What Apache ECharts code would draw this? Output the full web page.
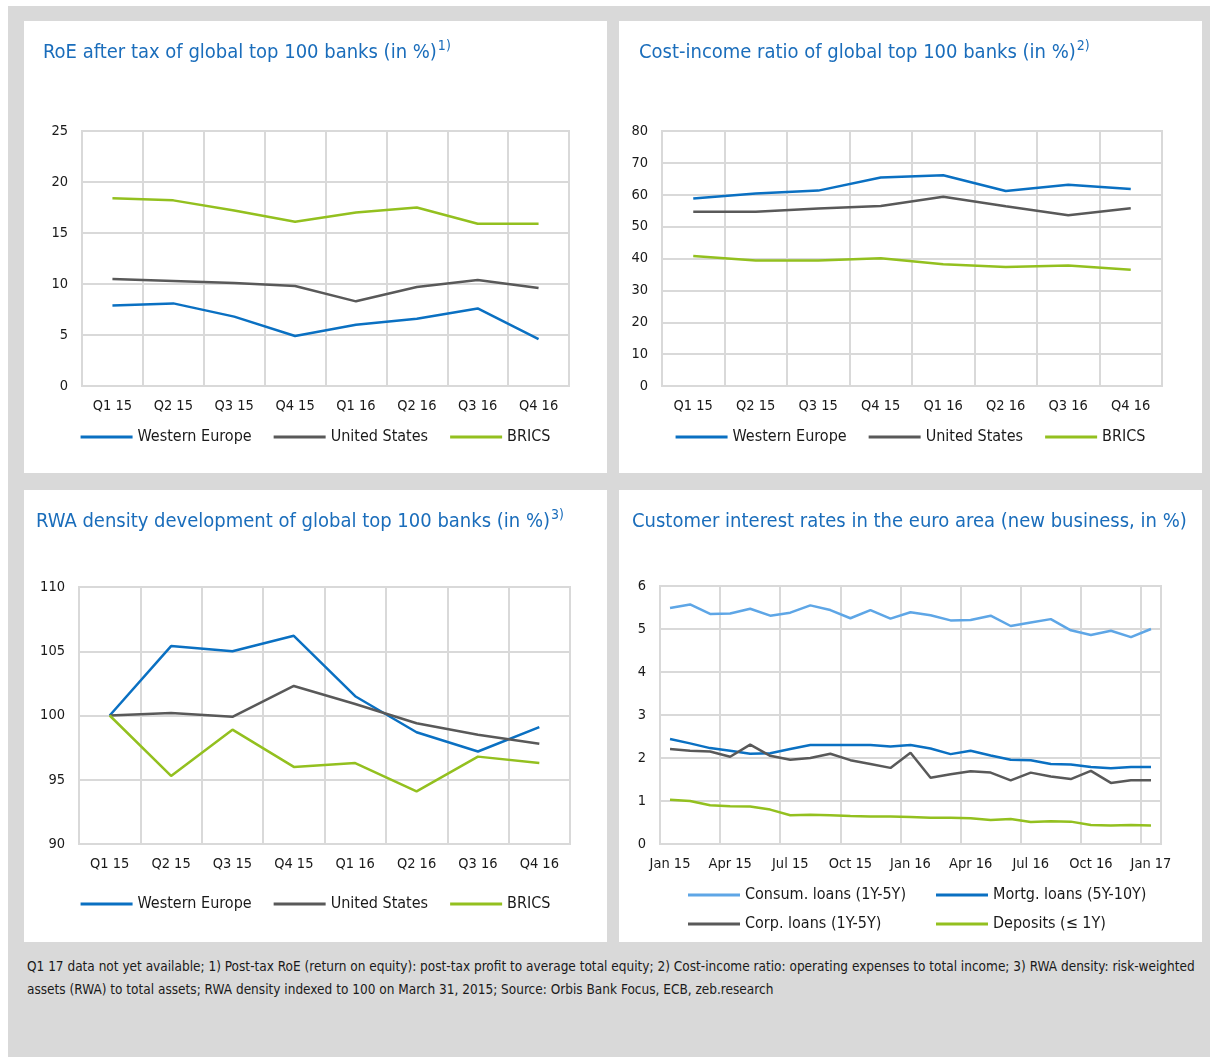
<!DOCTYPE html>
<html>
<head>
<meta charset="utf-8">
<script src="https://cdn.jsdelivr.net/npm/echarts@6/dist/echarts.min.js"></script>
<style>
  html, body { margin: 0; padding: 0; background: #fff; }
  body { width: 1210px; height: 1057px; position: relative; overflow: hidden; }
  .frame { position: absolute; left: 8px; top: 6px; right: 0; bottom: 0; background: #d9d9d9; }
  .panel { position: absolute; background: #fff; width: 583px; height: 452px; }
  .note {
    position: absolute; left: 27px; top: 955px; width: 1180px;
    font-family: "DejaVu Sans Condensed", "Liberation Sans", sans-serif;
    font-size: 13.5px; line-height: 23px; color: #1a1a1a; white-space: nowrap;
  }
</style>
</head>
<body>
<div class="frame"></div>
<div class="panel" id="roe" style="left:24px;top:21px;"></div>
<div class="panel" id="cir" style="left:619px;top:21px;"></div>
<div class="panel" id="rwa" style="left:24px;top:490px;"></div>
<div class="panel" id="rates" style="left:619px;top:490px;"></div>
<div class="note">Q1 17 data not yet available; 1) Post-tax RoE (return on equity): post-tax profit to average total equity; 2) Cost-income ratio: operating expenses to total income; 3) RWA density: risk-weighted<br>assets (RWA) to total assets; RWA density indexed to 100 on March 31, 2015; Source: Orbis Bank Focus, ECB, zeb.research</div>

<script>
// quarters used by the first three charts
const quarters = ['Q1 15', 'Q2 15', 'Q3 15', 'Q4 15', 'Q1 16', 'Q2 16', 'Q3 16', 'Q4 16'];
const regionNames = ['Western Europe', 'United States', 'BRICS'];

// RoE after tax (%)
const roeWesternEurope = [7.9, 8.1, 6.8, 4.9, 6.0, 6.6, 7.6, 4.6];
const roeUnitedStates = [10.5, 10.3, 10.1, 9.8, 8.3, 9.7, 10.4, 9.6];
const roeBrics = [18.4, 18.2, 17.2, 16.1, 17.0, 17.5, 15.9, 15.9];

// cost-income ratio (%)
const cirWesternEurope = [58.8, 60.4, 61.3, 65.4, 66.1, 61.2, 63.1, 61.8];
const cirUnitedStates = [54.7, 54.7, 55.7, 56.5, 59.4, 56.4, 53.6, 55.8];
const cirBrics = [40.8, 39.4, 39.4, 40.1, 38.2, 37.3, 37.8, 36.5];

// RWA density, indexed
const rwaWesternEurope = [100, 105.4, 105.0, 106.2, 101.5, 98.7, 97.2, 99.1];
const rwaUnitedStates = [100, 100.2, 99.9, 102.3, 100.9, 99.4, 98.5, 97.8];
const rwaBrics = [100, 95.3, 98.9, 96.0, 96.3, 94.1, 96.8, 96.3];

// monthly customer interest rates, Jan 15 .. Jan 17
const months = ['Jan 15', 'Feb 15', 'Mar 15', 'Apr 15', 'May 15', 'Jun 15', 'Jul 15', 'Aug 15', 'Sep 15',
  'Oct 15', 'Nov 15', 'Dec 15', 'Jan 16', 'Feb 16', 'Mar 16', 'Apr 16', 'May 16', 'Jun 16', 'Jul 16',
  'Aug 16', 'Sep 16', 'Oct 16', 'Nov 16', 'Dec 16', 'Jan 17'];
const consumLoans = [5.49, 5.57, 5.35, 5.36, 5.47, 5.31, 5.38, 5.55, 5.44, 5.25, 5.44, 5.24, 5.39,
  5.32, 5.20, 5.21, 5.31, 5.07, 5.15, 5.23, 4.97, 4.86, 4.96, 4.81, 5.00];
const mortgLoans = [2.44, 2.34, 2.23, 2.17, 2.10, 2.11, 2.21, 2.30, 2.30, 2.30, 2.30, 2.27, 2.30,
  2.22, 2.09, 2.17, 2.06, 1.96, 1.95, 1.86, 1.85, 1.79, 1.76, 1.79, 1.79];
const corpLoans = [2.21, 2.17, 2.15, 2.03, 2.31, 2.05, 1.96, 2.00, 2.10, 1.95, 1.86, 1.77, 2.12,
  1.54, 1.62, 1.69, 1.66, 1.48, 1.66, 1.57, 1.51, 1.70, 1.42, 1.48, 1.48];
const deposits = [1.03, 1.00, 0.90, 0.88, 0.87, 0.80, 0.67, 0.68, 0.67, 0.65, 0.64, 0.64, 0.63,
  0.61, 0.61, 0.60, 0.56, 0.58, 0.51, 0.53, 0.52, 0.44, 0.43, 0.44, 0.43];
const rateNames = ['Consum. loans (1Y-5Y)', 'Mortg. loans (5Y-10Y)', 'Corp. loans (1Y-5Y)', 'Deposits (≤ 1Y)'];

const FONT = '"DejaVu Sans Condensed", "Liberation Sans", sans-serif';
const BLUE = '#0a70c2';
const GREY = '#595959';
const GREEN = '#93c01f';
const LIGHT_BLUE = '#5ea6e6';
const GRID = '#d9d9d9';
const TEXT = '#1a1a1a';

const titleOf = (text, sup, left) => ({
  text: sup ? '{t|' + text + '}{s|' + sup + '}' : '{t|' + text + '}',
  left: left,
  top: 13,
  textStyle: {
    fontWeight: 'normal',
    rich: {
      t: { fontFamily: FONT, fontSize: 20, fontWeight: 'normal', color: '#1a6dbb', lineHeight: 28 },
      s: { fontFamily: FONT, fontSize: 14, fontWeight: 'normal', color: '#1a6dbb', verticalAlign: 'top', lineHeight: 28, padding: [0, 0, 0, 1] }
    }
  }
});

const lineSeries = (name, data, color) => ({
  name: name,
  type: 'line',
  data: data,
  symbol: 'none',
  smooth: false,
  lineStyle: { color: color, width: 2.5 },
  itemStyle: { color: color },
  emphasis: { disabled: true }
});

const legendStyle = {
  icon: 'rect',
  itemWidth: 52,
  itemHeight: 3,
  textStyle: { fontFamily: FONT, fontSize: 16, color: TEXT }
};

// single-item legend, so that the 2x2 legend of the rates chart lines up in columns
const legendAt = (name, left, top) => Object.assign({ data: [name], left: left, top: top }, legendStyle);

const axisLabelStyle = { fontFamily: FONT, fontSize: 14.5, color: TEXT };

// one quarterly chart: three regions on a category axis
const drawQuarterChart = (id, title, sup, titleLeft, grid, yMin, yMax, yStep, values) => {
  const chart = echarts.init(document.getElementById(id));
  chart.setOption({
    animation: false,
    title: titleOf(title, sup, titleLeft),
    legend: Object.assign({
      data: regionNames,
      left: 'center',
      top: grid.legendTop,
      itemGap: 22
    }, legendStyle),
    grid: {
      left: grid.left, right: grid.right, top: grid.top, bottom: grid.bottom,
      show: true, borderColor: GRID, borderWidth: 2
    },
    xAxis: {
      type: 'category',
      data: quarters,
      boundaryGap: true,
      axisLine: { show: false },
      axisTick: { show: false },
      axisLabel: Object.assign({ margin: 13 }, axisLabelStyle),
      splitLine: { show: true, lineStyle: { color: GRID, width: 2 } }
    },
    yAxis: {
      type: 'value',
      min: yMin,
      max: yMax,
      interval: yStep,
      axisLine: { show: false },
      axisTick: { show: false },
      axisLabel: Object.assign({ margin: 14 }, axisLabelStyle),
      splitLine: { lineStyle: { color: GRID, width: 2 } }
    },
    series: [
      lineSeries(regionNames[0], values[0], BLUE),
      lineSeries(regionNames[1], values[1], GREY),
      lineSeries(regionNames[2], values[2], GREEN)
    ]
  });
};

drawQuarterChart('roe', 'RoE after tax of global top 100 banks (in %)', '1)', 14,
  { left: 58, right: 38, top: 110, bottom: 87, legendTop: 403 }, 0, 25, 5,
  [roeWesternEurope, roeUnitedStates, roeBrics]);

drawQuarterChart('cir', 'Cost-income ratio of global top 100 banks (in %)', '2)', 15,
  { left: 43, right: 40, top: 110, bottom: 87, legendTop: 403 }, 0, 80, 10,
  [cirWesternEurope, cirUnitedStates, cirBrics]);

drawQuarterChart('rwa', 'RWA density development of global top 100 banks (in %)', '3)', 7,
  { left: 55, right: 37, top: 97, bottom: 98, legendTop: 401 }, 90, 110, 5,
  [rwaWesternEurope, rwaUnitedStates, rwaBrics]);

// monthly rates chart
const ratesChart = echarts.init(document.getElementById('rates'));
ratesChart.setOption({
  animation: false,
  title: titleOf('Customer interest rates in the euro area (new business, in %)', '', 8),
  legend: [
    legendAt(rateNames[0], 64, 392),
    legendAt(rateNames[1], 312, 392),
    legendAt(rateNames[2], 64, 421),
    legendAt(rateNames[3], 312, 421)
  ],
  grid: { left: 41, right: 41, top: 96, bottom: 98, show: true, borderColor: GRID, borderWidth: 2 },
  xAxis: {
    type: 'category',
    data: months,
    boundaryGap: true,
    axisLine: { show: false },
    axisTick: { show: false, interval: 2 },
    axisLabel: Object.assign({ interval: 2, margin: 13 }, axisLabelStyle),
    splitLine: { show: true, interval: 2, lineStyle: { color: GRID, width: 2 } }
  },
  yAxis: {
    type: 'value',
    min: 0,
    max: 6,
    interval: 1,
    axisLine: { show: false },
    axisTick: { show: false },
    axisLabel: Object.assign({ margin: 14 }, axisLabelStyle),
    splitLine: { lineStyle: { color: GRID, width: 2 } }
  },
  series: [
    lineSeries(rateNames[0], consumLoans, LIGHT_BLUE),
    lineSeries(rateNames[1], mortgLoans, BLUE),
    lineSeries(rateNames[2], corpLoans, GREY),
    lineSeries(rateNames[3], deposits, GREEN)
  ]
});
</script>
</body>
</html>
